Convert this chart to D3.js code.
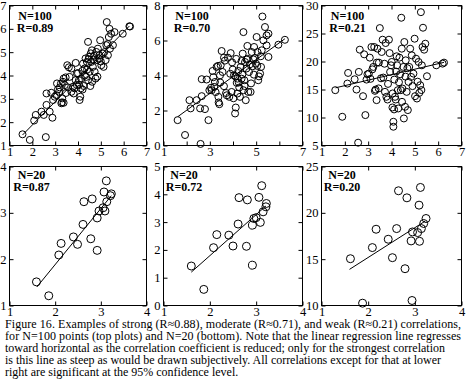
<!DOCTYPE html>
<html><head><meta charset="utf-8">
<script src="https://cdn.jsdelivr.net/npm/d3@7"></script>
<style>body{margin:0;background:#fff}svg{display:block}</style>
</head><body><svg id="c" width="466" height="383"></svg>
<script>
// ---------- data ----------
const topLeftX = [1.57,1.89,2.08,2.15,2.40,2.50,2.59,2.62,2.76,2.88,2.62,2.83,2.91,2.98,3.05,3.08,3.17,3.20,3.27,3.31,3.34,3.37,3.37,3.42,3.46,3.53,3.56,3.63,3.71,3.71,3.78,3.81,3.90,3.90,3.95,3.95,4.04,4.07,4.10,4.12,4.14,4.19,4.22,4.25,4.29,4.33,4.36,4.39,4.44,4.44,4.48,4.51,4.54,4.58,4.61,4.62,4.65,4.68,4.73,4.77,4.80,4.83,4.87,4.92,4.94,4.97,5.02,5.09,5.12,5.21,5.24,5.26,5.31,5.35,5.38,5.45,5.53,5.60,5.96,6.25,
  3.12,3.25,3.30,3.47,3.60,3.85,4.00,4.05,4.20,4.30,4.40,4.47,4.56,4.70,4.85,5.00,5.15,5.30,5.40,6.28];
const topLeftY = [1.48,1.24,2.07,2.31,2.45,2.31,1.36,2.74,2.45,2.19,3.23,3.26,2.95,3.09,3.16,3.66,3.30,3.49,2.81,3.02,3.73,3.87,2.83,3.59,3.92,4.44,3.49,3.94,4.30,3.30,3.52,3.23,4.54,3.80,4.09,3.59,3.80,2.95,3.09,3.45,3.87,4.20,4.51,3.55,4.30,4.73,3.94,4.58,5.44,3.80,4.80,4.16,3.55,4.58,5.08,3.73,4.37,4.68,4.16,3.87,5.01,4.66,5.15,4.73,4.87,5.51,4.44,4.94,4.37,4.66,5.30,6.29,4.87,5.65,6.00,5.79,5.30,5.86,5.79,6.11,
  3.40,3.65,2.85,3.25,4.35,3.45,4.10,3.60,3.40,4.00,4.25,4.70,4.95,4.85,3.95,4.60,5.00,5.35,5.15,6.10];

const topMidX = [1.61,1.93,2.17,2.12,2.43,2.58,2.65,2.65,2.60,2.79,2.86,2.94,2.98,3.08,3.12,3.19,3.22,3.29,3.37,3.38,3.41,3.44,3.47,3.51,3.61,3.61,3.73,3.78,3.84,3.90,3.94,3.99,4.04,4.09,4.12,4.16,4.19,4.19,4.23,4.27,4.30,4.33,4.37,4.37,4.42,4.45,4.45,4.49,4.52,4.55,4.59,4.62,4.66,4.69,4.73,4.76,4.81,4.85,4.88,4.91,4.99,5.02,5.06,5.09,5.17,5.21,5.24,5.27,5.31,5.38,5.45,5.53,5.45,5.53,5.96,6.24,
  3.05,3.15,3.25,3.35,3.45,3.55,3.65,3.70,3.88,3.96,4.02,4.10,4.14,4.25,4.40,4.50,4.58,4.63,4.78,4.90,4.95,5.05,5.12,5.20];
const topMidY = [1.45,0.60,2.12,2.59,2.59,2.12,2.82,3.79,0.09,2.08,3.77,1.45,3.16,3.16,4.26,3.35,3.63,4.49,2.78,2.46,2.36,4.01,4.58,5.40,5.02,3.39,2.87,5.02,2.78,5.28,3.06,4.34,4.01,1.83,2.17,3.58,2.97,3.82,4.26,3.31,2.78,4.49,3.82,4.83,5.25,6.48,3.16,3.73,4.77,2.59,4.91,5.69,3.06,4.20,4.64,3.06,5.34,4.53,4.92,5.63,4.68,6.20,5.34,3.73,4.11,4.49,5.44,7.37,6.01,6.77,6.29,5.06,5.72,6.39,5.76,6.04,
  3.30,3.90,3.05,4.55,3.60,4.20,4.85,3.00,4.10,4.75,2.70,3.95,4.95,3.60,4.05,3.40,4.40,4.95,3.55,4.05,5.00,4.55,3.95,5.10];

const topRightX = [1.59,1.89,2.14,2.11,2.42,2.50,2.60,2.64,2.57,2.78,2.83,2.88,2.93,2.97,3.03,3.07,3.14,3.22,3.26,3.29,3.32,3.36,3.37,3.40,3.46,3.50,3.58,3.62,3.65,3.72,3.75,3.78,3.83,3.89,3.94,3.98,4.01,4.04,4.08,4.08,4.11,4.12,4.15,4.18,4.22,4.24,4.27,4.29,4.34,4.37,4.40,4.42,4.44,4.47,4.51,4.53,4.55,4.58,4.61,4.65,4.70,4.73,4.76,4.80,4.84,4.87,4.94,4.99,5.01,5.09,5.16,5.19,5.23,5.26,5.30,5.33,5.35,5.40,5.45,5.52,5.92,6.19,6.25,
  3.10,3.18,3.45,3.55,3.70,3.85,3.92,4.05,4.20,4.32,4.45,4.60,4.68,4.90,5.05,5.12,5.28];
const topRightY = [14.88,10.13,17.96,16.06,16.83,14.99,18.14,22.11,5.50,13.81,21.28,10.43,16.77,17.72,17.84,20.69,22.59,19.03,22.59,14.76,14.99,13.10,19.80,22.29,19.80,25.97,21.70,23.89,17.13,14.58,23.30,13.69,13.21,23.89,18.14,19.32,19.92,11.79,8.35,9.24,11.44,16.77,13.69,13.21,20.93,19.32,14.88,11.61,20.69,17.72,14.88,27.81,22.29,15.17,19.03,9.83,23.48,11.91,20.21,14.58,11.32,16.36,19.03,22.29,17.25,21.10,17.84,24.07,13.81,13.39,19.92,14.40,15.77,28.81,19.32,22.59,26.03,22.11,23.18,17.37,19.32,19.62,19.80,
  16.9,18.6,15.2,17.0,19.6,16.0,21.5,14.3,18.2,16.3,12.8,17.3,18.8,15.6,20.5,16.4,14.9];

const botLeftX = [1.59,1.86,2.08,2.13,2.40,2.49,2.61,2.63,2.78,2.81,2.92,2.92,2.96,3.05,3.07,3.09,3.12,3.13,3.21,3.23];
const botLeftY = [1.51,1.21,2.09,2.34,2.48,2.32,2.75,3.24,2.44,3.30,2.89,2.19,3.04,3.11,3.45,3.04,3.69,3.24,3.37,3.41];

const botMidX = [1.60,1.87,2.08,2.15,2.41,2.50,2.61,2.63,2.79,2.81,2.92,2.92,2.95,3.00,3.06,3.09,3.12,3.15,3.21,3.22];
const botMidY = [1.42,0.58,2.08,2.55,2.53,2.14,2.93,3.88,2.13,3.80,2.89,1.45,3.13,3.16,3.89,2.99,4.31,3.37,3.55,3.67];

const botRightX = [1.62,1.88,2.09,2.17,2.43,2.52,2.61,2.65,2.79,2.83,2.92,2.94,2.95,3.06,3.09,3.12,3.10,3.14,3.19,3.24];
const botRightY = [15.05,10.25,16.25,18.23,17.15,15.16,18.30,22.38,13.97,21.62,16.97,10.54,17.94,17.87,20.83,22.74,16.93,18.30,18.85,19.39];

// regression lines: [x1, y1, x2, y2]
const fitLines = [[1.57,1.45,6.25,6.12],[1.61,1.64,6.24,6.10],[1.60,15.3,6.25,19.85],
                  [1.60,1.40,3.23,3.37],[1.60,1.20,3.21,3.58],[1.60,13.9,3.22,19.1]];
const nLabels = ["N=100","N=100","N=100","N=20","N=20","N=20"];
const rLabels = ["R=0.89","R=0.70","R=0.21","R=0.87","R=0.72","R=0.20"];
const xDomains = [[1,7],[1,7],[1,7],[1,4],[1,4],[1,4]];
const yDomains = [[1,7],[0,8],[5,30],[1,4],[0,5],[10,25]];
const xTickVals = [[1,2,3,4,5,6,7],[1,2,3,4,5,6,7],[1,2,3,4,5,6,7],[1,2,3,4],[1,2,3,4],[1,2,3,4]];
const xTickLabels = [[1,2,3,4,5,6,7],[1,3,5,7],[1,2,3,4,5,6,7],[1,2,3,4],[1,2,3,4],[1,2,3,4]];
const yTickVals = [[1,2,3,4,5,6,7],[0,2,4,6,8],[5,10,15,20,25,30],[1,2,3,4],[0,1,2,3,4,5],[10,15,20,25]];
const captionLines = [
  "Figure 16. Examples of strong (R\u22480.88), moderate (R\u22480.71), and weak (R\u22480.21)  correlations,",
  "for N=100 points (top plots) and N=20 (bottom). Note that the linear regression line regresses",
  "toward horizontal as the correlation coefficient is reduced; only for the strongest correlation",
  "is this line as steep as would be drawn subjectively. All correlations except for that at lower",
  "right are significant at the 95% confidence level."
];

// ---------- layout ----------
const cols = [[9.5,146.5],[163.5,302.5],[321.5,461.5]];
const rows = [[5.5,145.5],[166.5,305.5]];
const annOff = [[25.5,14.5,26.5],[28.5,14.5,26.5],[26,14.5,26.5],[22,12,24],[20.5,12,24],[20.5,12,24]];
const xsAll = [topLeftX, topMidX, topRightX, botLeftX, botMidX, botRightX];
const ysAll = [topLeftY, topMidY, topRightY, botLeftY, botMidY, botRightY];
const FONT = "'Liberation Serif','Times New Roman',Times,serif";
const fmt = d3.format("d");

const svg = d3.select("#c");
svg.append("rect").attr("width",466).attr("height",383).attr("fill","#fff");

for (let i = 0; i < 6; i++) {
  const [x0,x1] = cols[i % 3];
  const [y0,y1] = rows[Math.floor(i/3)];
  const x = d3.scaleLinear().domain(xDomains[i]).range([x0,x1]);
  const y = d3.scaleLinear().domain(yDomains[i]).range([y1,y0]);
  const g = svg.append("g");
  const lab = new Set(xTickLabels[i]);
  const styleAxis = sel => {
    sel.select(".domain").remove();
    sel.attr("font-family", FONT).attr("font-size", 12.5);
    sel.selectAll("line").attr("stroke","#000");
    sel.selectAll("text").attr("fill","#000");
  };
  g.append("g").attr("transform",`translate(0,${y1})`)
    .call(d3.axisBottom(x).tickValues(xTickVals[i]).tickSize(-4).tickPadding(1.5)
      .tickFormat(d => lab.has(d) ? fmt(d) : "")).call(styleAxis);
  g.append("g").attr("transform",`translate(0,${y0})`)
    .call(d3.axisTop(x).tickValues(xTickVals[i]).tickSize(-4).tickFormat("")).call(styleAxis);
  g.append("g").attr("transform",`translate(${x0},0)`)
    .call(d3.axisLeft(y).tickValues(yTickVals[i]).tickSize(-4).tickPadding(3).tickFormat(fmt)).call(styleAxis);
  g.append("g").attr("transform",`translate(${x1},0)`)
    .call(d3.axisRight(y).tickValues(yTickVals[i]).tickSize(-4).tickFormat("")).call(styleAxis);
  g.append("rect").attr("x",x0).attr("y",y0).attr("width",x1-x0).attr("height",y1-y0)
    .attr("fill","none").attr("stroke","#000").attr("stroke-width",1);

  const fl = fitLines[i];
  g.append("line").attr("x1",x(fl[0])).attr("y1",y(fl[1])).attr("x2",x(fl[2])).attr("y2",y(fl[3]))
    .attr("stroke","#000").attr("stroke-width",1);

  const pts = xsAll[i].map((v,k) => [v, ysAll[i][k]]);
  g.selectAll("circle").data(pts).join("circle")
    .attr("cx", d => x(d[0])).attr("cy", d => y(d[1]))
    .attr("r", i < 3 ? 3.5 : 4).attr("fill","none").attr("stroke","#000").attr("stroke-width",1);

  const [ax, b1, b2] = annOff[i];
  g.append("text").attr("x", x0+ax).attr("y", y0+b1).attr("text-anchor","middle")
    .attr("font-family",FONT).attr("font-weight","bold").attr("font-size",12).text(nLabels[i]);
  g.append("text").attr("x", x0+ax).attr("y", y0+b2).attr("text-anchor","middle")
    .attr("font-family",FONT).attr("font-weight","bold").attr("font-size",12).text(rLabels[i]);
}

const capW = [456, 456, 440, 436, null];
captionLines.forEach((t,k) => {
  const tx = svg.append("text").attr("x",5).attr("y",328 + k*12)
    .attr("font-family",FONT).attr("font-size",12).attr("fill","#000").text(t);
  if (capW[k]) tx.attr("textLength",capW[k]).attr("lengthAdjust","spacing");
});
</script></body></html>
